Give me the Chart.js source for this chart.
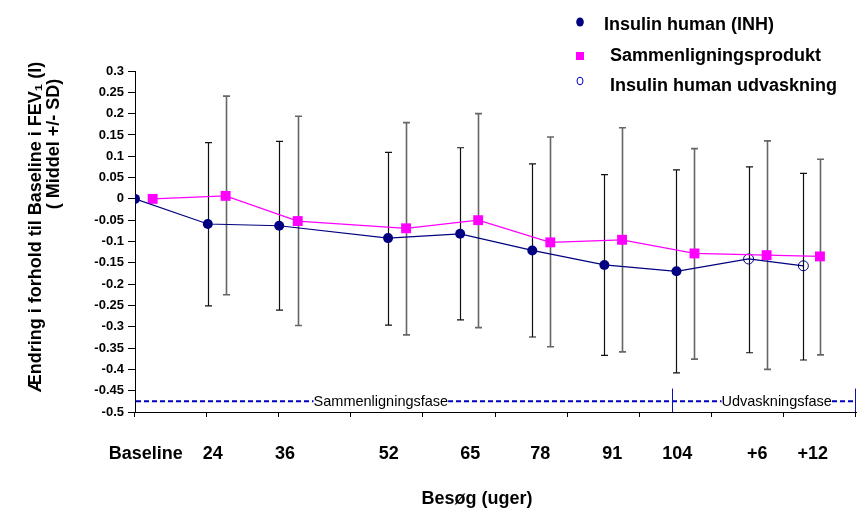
<!DOCTYPE html>
<html>
<head>
<meta charset="utf-8">
<script src="https://cdn.jsdelivr.net/npm/chart.js"></script>
<style>
  html, body { margin: 0; padding: 0; background: #fff; }
  #wrap { width: 857px; height: 510px; }
</style>
</head>
<body>
<div id="wrap"><canvas id="myChart" width="857" height="510"></canvas></div>
<script>
// visits (x axis categories) and where their labels sit on the x scale
const visits = ['Baseline', '24', '36', '52', '65', '78', '91', '104', '+6', '+12'];
const visitLabelPos = [0.15, 1.08, 2.08, 3.52, 4.65, 5.62, 6.62, 7.52, 8.63, 9.40];

// Insulin human (INH): mean and mean +/- SD
const inhPos = [0, 1.01, 2.0, 3.51, 4.51, 5.51, 6.51, 7.51, 8.51, 9.27];
const inhMean = [0, -0.059, -0.063, -0.092, -0.082, -0.121, -0.155, -0.170, -0.141, -0.157];
const inhUpper = [null, 0.132, 0.135, 0.109, 0.120, 0.082, 0.057, 0.068, 0.075, 0.060];
const inhLower = [null, -0.251, -0.261, -0.296, -0.284, -0.324, -0.367, -0.408, -0.361, -0.378];
const washoutStart = 8; // +6 and +12 are the washout visits (open circles)

// Sammenligningsprodukt
const compPos = [0.245, 1.257, 2.257, 3.76, 4.76, 5.76, 6.755, 7.76, 8.76, 9.5];
const compMean = [0, 0.007, -0.052, -0.069, -0.050, -0.102, -0.096, -0.128, -0.132, -0.135];
const compUpper = [null, 0.241, 0.194, 0.179, 0.200, 0.145, 0.167, 0.118, 0.136, 0.093];
const compLower = [null, -0.225, -0.297, -0.319, -0.302, -0.347, -0.359, -0.376, -0.400, -0.366];

const yTicks = [0.3, 0.25, 0.2, 0.15, 0.1, 0.05, 0, -0.05, -0.1, -0.15, -0.2, -0.25, -0.3, -0.35, -0.4, -0.45, -0.5];
const xTickMarks = [0, 1, 2, 3, 4, 5, 6, 7, 8, 9, 10];

// study phases along the bottom
const phaseNames = ['Sammenligningsfase', 'Udvaskningsfase'];
const phaseLabelPos = [3.41, 8.90];
const phaseEdges = [7.466, 10];
const phaseLineY = -0.475;
const phaseEdgeTop = -0.445;

const yTitle = ['Ændring i forhold til Baseline i FEV₁ (l)', '( Middel +/- SD)'];
const xTitle = 'Besøg (uger)';

const FONT = '"Liberation Sans", Arial, Helvetica, sans-serif';
const NAVY = '#000080';
const MAGENTA = '#ff00ff';

function points(pos, vals) {
  return pos.map((x, i) => ({ x: x, y: vals[i] }));
}

const errorBars = {
  id: 'errorBars',
  beforeDatasetsDraw(chart) {
    const { ctx, scales: { x, y } } = chart;
    const series = [
      { pos: inhPos, hi: inhUpper, lo: inhLower, color: '#111', width: 1.2 },
      { pos: compPos, hi: compUpper, lo: compLower, color: '#666', width: 1.6 },
    ];
    ctx.save();
    series.forEach((s) => {
      ctx.strokeStyle = s.color;
      ctx.lineWidth = s.width;
      s.pos.forEach((p, i) => {
        if (s.hi[i] === null) return;
        const px = Math.round(x.getPixelForValue(p)) + 0.5;
        const top = y.getPixelForValue(s.hi[i]);
        const bot = y.getPixelForValue(s.lo[i]);
        ctx.beginPath();
        ctx.moveTo(px, top);
        ctx.lineTo(px, bot);
        ctx.moveTo(px - 3.5, top);
        ctx.lineTo(px + 3.5, top);
        ctx.moveTo(px - 3.5, bot);
        ctx.lineTo(px + 3.5, bot);
        ctx.stroke();
      });
    });
    ctx.restore();
  },
};

const phases = {
  id: 'phases',
  beforeDatasetsDraw(chart) {
    const { ctx, scales: { x, y } } = chart;
    const ly = y.getPixelForValue(phaseLineY);
    ctx.save();
    ctx.strokeStyle = '#0000c0';
    ctx.lineWidth = 2;
    ctx.setLineDash([5, 3]);
    ctx.beginPath();
    ctx.moveTo(x.getPixelForValue(0) + 1, ly);
    ctx.lineTo(x.getPixelForValue(10), ly);
    ctx.stroke();
    ctx.setLineDash([]);
    ctx.lineWidth = 1;
    ctx.strokeStyle = '#1010b0';
    phaseEdges.forEach((v) => {
      const px = Math.round(x.getPixelForValue(v)) - 0.5;
      ctx.beginPath();
      ctx.moveTo(px, y.getPixelForValue(phaseEdgeTop));
      ctx.lineTo(px, y.getPixelForValue(-0.5));
      ctx.stroke();
    });
    ctx.font = '14.5px ' + FONT;
    ctx.textAlign = 'center';
    ctx.textBaseline = 'middle';
    phaseNames.forEach((name, i) => {
      const px = x.getPixelForValue(phaseLabelPos[i]);
      const w = ctx.measureText(name).width;
      ctx.fillStyle = '#fff';
      ctx.fillRect(px - w / 2, ly - 7, w, 14);
      ctx.fillStyle = '#000';
      ctx.fillText(name, px, ly + 1);
    });
    ctx.restore();
  },
};

const decorations = {
  id: 'decorations',
  afterDraw(chart) {
    const { ctx, chartArea, scales: { x } } = chart;
    ctx.save();
    // x tick marks
    ctx.strokeStyle = '#000';
    ctx.lineWidth = 1;
    xTickMarks.forEach((v) => {
      const px = Math.round(x.getPixelForValue(v)) - 0.5;
      ctx.beginPath();
      ctx.moveTo(px, chartArea.bottom);
      ctx.lineTo(px, chartArea.bottom + 5);
      ctx.stroke();
    });

    // axis titles
    ctx.fillStyle = '#000';
    ctx.font = 'bold 18px ' + FONT;
    ctx.textAlign = 'center';
    ctx.textBaseline = 'middle';
    ctx.fillText(xTitle, 477, 499);

    const titleX = [36, 54];
    const titleY = [227, 144];
    yTitle.forEach((t, i) => {
      ctx.save();
      ctx.translate(titleX[i], titleY[i]);
      ctx.rotate(-Math.PI / 2);
      ctx.fillText(t, 0, 0);
      ctx.restore();
    });

    // legend
    const ds = chart.data.datasets;
    const legendY = [22, 56, 81];
    const textX = [604, 610, 610];
    const textY = [25, 56, 86];
    ctx.fillStyle = NAVY;
    ctx.beginPath();
    ctx.ellipse(580, legendY[0], 3.8, 4.5, 0, 0, Math.PI * 2);
    ctx.fill();
    ctx.fillStyle = MAGENTA;
    ctx.fillRect(576, legendY[1] - 4, 8, 8);
    ctx.strokeStyle = '#0000cc';
    ctx.lineWidth = 1;
    ctx.beginPath();
    ctx.ellipse(580, legendY[2], 3, 3.8, 0, 0, Math.PI * 2);
    ctx.stroke();
    ctx.fillStyle = '#000';
    ctx.textAlign = 'left';
    ctx.font = 'bold 18px ' + FONT;
    ds.forEach((d, i) => {
      ctx.fillText(d.label, textX[i], textY[i]);
    });
    ctx.restore();
  },
};

const ctx = document.getElementById('myChart').getContext('2d');

new Chart(ctx, {
  type: 'line',
  data: {
    datasets: [
      {
        label: 'Insulin human (INH)',
        data: points(inhPos, inhMean),
        borderColor: NAVY,
        backgroundColor: NAVY,
        borderWidth: 1.2,
        pointRadius: inhPos.map((p, i) => (i < washoutStart ? 5 : 0)),
        pointBorderWidth: 0,
        tension: 0,
      },
      {
        label: 'Sammenligningsprodukt',
        data: points(compPos, compMean),
        borderColor: MAGENTA,
        backgroundColor: MAGENTA,
        borderWidth: 1.2,
        pointStyle: 'rect',
        pointRadius: 7,
        pointBorderWidth: 0,
        tension: 0,
      },
      {
        label: 'Insulin human udvaskning',
        data: points(inhPos.slice(washoutStart), inhMean.slice(washoutStart)),
        showLine: false,
        borderColor: NAVY,
        backgroundColor: 'rgba(0,0,0,0)',
        pointRadius: 5,
        pointBorderWidth: 1,
      },
    ],
  },
  options: {
    responsive: false,
    animation: false,
    layout: { autoPadding: false, padding: { top: 71, right: 1, bottom: 0, left: 0 } },
    plugins: {
      legend: { display: false },
      tooltip: { enabled: false },
    },
    scales: {
      x: {
        type: 'linear',
        min: 0,
        max: 10,
        afterBuildTicks: (s) => {
          s.ticks = visitLabelPos.map((v) => ({ value: v }));
        },
        afterFit: (s) => {
          s.height = 98;
          s.paddingLeft = 0;
          s.paddingRight = 0;
        },
        ticks: {
          callback: (v, i) => visits[i],
          font: { family: FONT, size: 18, weight: 'bold' },
          color: '#000',
          padding: 23,
          maxRotation: 0,
          autoSkip: false,
        },
        grid: { display: false },
        border: { color: '#000', width: 1 },
      },
      y: {
        min: -0.5,
        max: 0.3,
        afterBuildTicks: (s) => {
          s.ticks = yTicks.map((v) => ({ value: v }));
        },
        afterFit: (s) => {
          s.width = 135;
        },
        ticks: {
          callback: (v) => String(v),
          font: { family: FONT, size: 13, weight: 'bold' },
          color: '#000',
          padding: 4,
          autoSkip: false,
        },
        grid: { drawOnChartArea: false, tickLength: 7, color: '#000' },
        border: { color: '#000', width: 1 },
      },
    },
  },
  plugins: [errorBars, phases, decorations],
});
</script>
</body>
</html>
